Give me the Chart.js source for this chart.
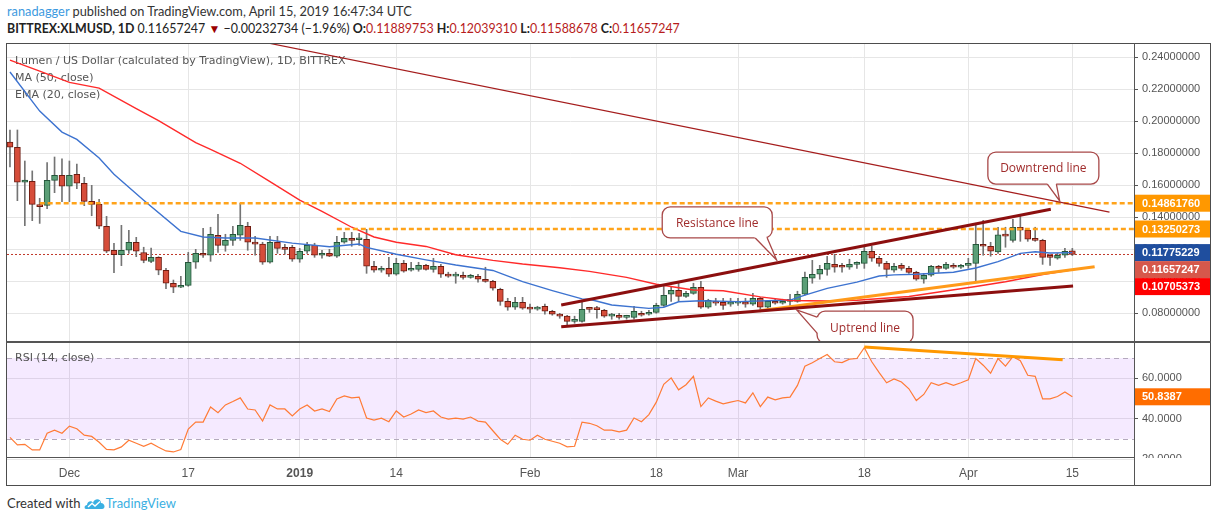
<!DOCTYPE html>
<html>
<head>
<meta charset="utf-8">
<title>XLMUSD 1D</title>
<script src="https://cdn.jsdelivr.net/npm/chart.js@4.4.1/dist/chart.umd.min.js"></script>
<style>
  body { margin: 0; background: #fff; width: 1216px; height: 522px; overflow: hidden; position: relative; font-family: 'Lato', sans-serif; }
  .abs { position: absolute; }
  #head1 { left: 7px; top: 3px; font-size: 12.8px; color: #333; white-space: nowrap; }
  #head1 .user { color: #3d9ae0; }
  #head2 { left: 7px; top: 21px; font-size: 12.4px; color: #222; white-space: nowrap; }
  #head2 b { font-weight: 700; }
  #head2 .dn { color: #9b0000; font-size: 12px; }
  #head2 .v { color: #b71c1c; }
  #frame { left: 6px; top: 43px; width: 1205px; height: 443px; box-sizing: border-box; border: 1px solid #4d4d4d; }
  .sep { background: #555; }
  #footer { left: 7px; top: 495px; font-size: 13px; color: #333; white-space: nowrap; display: flex; align-items: center; }
  #footer .tv { color: #3bb0e2; }
</style>
</head>
<body>
<div id="head1" class="abs"><span class="user">ranadagger</span> published on TradingView.com, April 15, 2019 16:47:34 UTC</div>
<div id="head2" class="abs"><b>BITTREX:XLMUSD, 1D</b> 0.11657247 <span class="dn">&#9660;</span> &minus;0.00232734 (&minus;1.96%) <b>O:</b><span class="v">0.11889753</span> <b>H:</b><span class="v">0.12039310</span> <b>L:</b><span class="v">0.11588678</span> <b>C:</b><span class="v">0.11657247</span></div>

<canvas id="priceChart" class="abs" width="1203" height="297" style="left:7px;top:44px"></canvas>
<canvas id="rsiChart" class="abs" width="1203" height="142" style="left:7px;top:343px"></canvas>

<div id="frame" class="abs"></div>
<div class="abs sep" style="left:6px;top:341px;width:1205px;height:2px"></div>
<div class="abs sep" style="left:6px;top:457px;width:1128px;height:1px"></div>
<div class="abs sep" style="left:1134px;top:43px;width:1px;height:443px"></div>

<div id="footer" class="abs">Created with&nbsp;<svg width="22" height="14" viewBox="0 0 22 14"><path d="M2 13 C0 13 0 9 3 9 C3 5 8 4 9 7 C10 2 17 2 17 7 C21 7 22 13 18 13 Z" fill="#3bb0e2"/><path d="M4 11 L8 7.5 L11 10 L16 5.5" stroke="#fff" stroke-width="1.4" fill="none"/></svg><span class="tv">TradingView</span></div>

<script>
// daily candles, 2018-11-23 .. 2019-04-15 (index 0 = Nov 23)
const open = [0.1869,0.1836,0.1617,0.1623,0.1467,0.1473,0.1629,0.1660,0.1592,0.1667,
  0.1611,0.1498,0.1479,0.1342,0.1192,0.1164,0.1192,0.1242,0.1178,0.1123,
  0.1148,0.1067,0.0986,0.0961,0.0973,0.1117,0.1173,0.1161,0.1286,0.1223,
  0.1254,0.1286,0.1342,0.1236,0.1230,0.1117,0.1242,0.1204,0.1211,0.1136,
  0.1186,0.1223,0.1161,0.1173,0.1155,0.1242,0.1267,0.1258,0.1261,0.1092,
  0.1067,0.1079,0.1042,0.1110,0.1067,0.1073,0.1098,0.1073,0.1092,0.1042,
  0.1030,0.1036,0.1023,0.1029,0.1011,0.0998,0.0948,0.0873,0.0836,0.0867,
  0.0830,0.0824,0.0842,0.0811,0.0792,0.0780,0.0748,0.0748,0.0826,0.0823,
  0.0817,0.0780,0.0786,0.0773,0.0773,0.0798,0.0792,0.0804,0.0848,0.0917,
  0.0942,0.0904,0.0923,0.0961,0.0836,0.0873,0.0867,0.0855,0.0861,0.0867,
  0.0855,0.0892,0.0836,0.0873,0.0861,0.0873,0.0873,0.0917,0.1017,0.1042,
  0.1073,0.1104,0.1088,0.1086,0.1104,0.1110,0.1186,0.1142,0.1110,0.1067,
  0.1098,0.1079,0.1054,0.1011,0.1036,0.1092,0.1079,0.1098,0.1086,0.1098,
  0.1110,0.1223,0.1217,0.1181,0.1292,0.1254,0.1336,0.1317,0.1261,0.1254,
  0.1154,0.1142,0.1161,0.11889753];
const high = [0.1944,0.1944,0.1750,0.1688,0.1517,0.1740,0.1775,0.1763,0.1750,0.1731,
  0.1648,0.1598,0.1511,0.1404,0.1236,0.1348,0.1317,0.1273,0.1211,0.1205,
  0.1152,0.1079,0.1006,0.1029,0.1179,0.1198,0.1329,0.1336,0.1417,0.1292,
  0.1342,0.1486,0.1367,0.1279,0.1242,0.1279,0.1279,0.1229,0.1223,0.1204,
  0.1242,0.1236,0.1192,0.1198,0.1279,0.1304,0.1304,0.1298,0.1323,0.1123,
  0.1092,0.1148,0.1142,0.1129,0.1117,0.1117,0.1104,0.1142,0.1104,0.1055,
  0.1055,0.1055,0.1042,0.1042,0.1086,0.1004,0.0955,0.0892,0.0898,0.0898,
  0.0855,0.0842,0.0855,0.0817,0.0798,0.0786,0.0780,0.0873,0.0836,0.0842,
  0.0823,0.0798,0.0798,0.0786,0.0842,0.0811,0.0817,0.0861,0.0973,0.0961,
  0.0992,0.0936,0.0986,0.0998,0.0886,0.0892,0.0892,0.0892,0.0892,0.0892,
  0.0923,0.0898,0.0879,0.0886,0.0886,0.0917,0.0936,0.1055,0.1129,0.1098,
  0.1154,0.1167,0.1110,0.1136,0.1120,0.1223,0.1217,0.1154,0.1123,0.1110,
  0.1110,0.1092,0.1061,0.1048,0.1098,0.1098,0.1117,0.1110,0.1104,0.1142,
  0.1361,0.1379,0.1242,0.1336,0.1336,0.1386,0.1404,0.1323,0.1336,0.1261,
  0.1167,0.1173,0.1204,0.12039310];
const low = [0.1713,0.1502,0.1346,0.1377,0.1360,0.1452,0.1552,0.1496,0.1496,0.1577,
  0.1471,0.1408,0.1327,0.1177,0.1052,0.1096,0.1173,0.1152,0.1114,0.1114,
  0.1039,0.0952,0.0927,0.0958,0.0967,0.1079,0.1148,0.1123,0.1179,0.1186,
  0.1223,0.1254,0.1192,0.1161,0.1104,0.1111,0.1173,0.1167,0.1123,0.1117,
  0.1173,0.1148,0.1142,0.1152,0.1148,0.1236,0.1217,0.1223,0.1048,0.1055,
  0.1055,0.1029,0.1036,0.1055,0.1061,0.1061,0.1067,0.1055,0.1023,0.1023,
  0.0986,0.1011,0.1017,0.0992,0.0992,0.0942,0.0848,0.0817,0.0823,0.0823,
  0.0800,0.0817,0.0792,0.0786,0.0767,0.0723,0.0736,0.0742,0.0804,0.0767,
  0.0773,0.0761,0.0761,0.0761,0.0761,0.0780,0.0786,0.0798,0.0842,0.0873,
  0.0873,0.0898,0.0917,0.0829,0.0829,0.0848,0.0823,0.0842,0.0848,0.0836,
  0.0848,0.0823,0.0829,0.0855,0.0855,0.0848,0.0867,0.0911,0.0986,0.1011,
  0.1036,0.1055,0.1055,0.1073,0.1079,0.1079,0.1123,0.1092,0.1023,0.1055,
  0.1067,0.1048,0.1004,0.0986,0.1029,0.1054,0.1073,0.1079,0.1079,0.1079,
  0.0998,0.1161,0.1155,0.1173,0.1211,0.1242,0.1248,0.1248,0.1248,0.1104,
  0.1098,0.1136,0.1148,0.11588678];
const close = [0.1837,0.1617,0.1631,0.1479,0.1465,0.1629,0.1660,0.1592,0.1660,0.1611,
  0.1498,0.1479,0.1342,0.1186,0.1164,0.1192,0.1242,0.1186,0.1129,0.1148,
  0.1067,0.0986,0.0961,0.0973,0.1117,0.1173,0.1161,0.1292,0.1223,0.1254,
  0.1292,0.1348,0.1242,0.1230,0.1117,0.1242,0.1204,0.1198,0.1136,0.1186,
  0.1223,0.1161,0.1173,0.1155,0.1242,0.1267,0.1254,0.1261,0.1092,0.1067,
  0.1079,0.1042,0.1110,0.1061,0.1079,0.1098,0.1073,0.1092,0.1042,0.1030,
  0.1042,0.1023,0.1029,0.1011,0.0998,0.0955,0.0873,0.0836,0.0867,0.0830,
  0.0824,0.0836,0.0811,0.0792,0.0780,0.0748,0.0751,0.0823,0.0823,0.0821,
  0.0780,0.0783,0.0773,0.0776,0.0811,0.0786,0.0804,0.0848,0.0911,0.0942,
  0.0904,0.0923,0.0961,0.0836,0.0879,0.0861,0.0848,0.0867,0.0863,0.0855,
  0.0892,0.0836,0.0873,0.0861,0.0873,0.0876,0.0917,0.1023,0.1042,0.1073,
  0.1110,0.1086,0.1086,0.1104,0.1114,0.1186,0.1142,0.1110,0.1073,0.1092,
  0.1079,0.1054,0.1011,0.1036,0.1092,0.1079,0.1104,0.1086,0.1098,0.1110,
  0.1229,0.1217,0.1186,0.1289,0.1280,0.1336,0.1317,0.1261,0.1254,0.1148,
  0.1148,0.1161,0.1186,0.11657247];

// indicator readings [day index, value]
const ma50 = [[0,0.2381],[4,0.2312],[8,0.2241],[12,0.2206],[17,0.2078],[20,0.2002],[25,0.1865],
  [27,0.1823],[31,0.1736],[35,0.1621],[39,0.1506],[42,0.1435],[46,0.1336],[49,0.1275],[52,0.1242],
  [56,0.1216],[60,0.1164],[65,0.1129],[69,0.1106],[74,0.1083],[78,0.1060],[83,0.1023],[87,0.0980],
  [92,0.0944],[96,0.0939],[101,0.0901],[105,0.0878],[110,0.0875],[114,0.0880],[121,0.0903],
  [130,0.0966],[134,0.0995],[139,0.1041],[143,0.10705373]];
const ema20 = [[0,0.2306],[4,0.2062],[7,0.1931],[9,0.1885],[12,0.1769],[14,0.1667],[18,0.1505],
  [23,0.1310],[26,0.1275],[29,0.1269],[33,0.1269],[38,0.1237],[43,0.1214],[47,0.1231],[48,0.1210],
  [52,0.1167],[56,0.1132],[60,0.1100],[65,0.1066],[69,0.0996],[73,0.0940],[77,0.0888],[78,0.0886],
  [81,0.0850],[86,0.0829],[88,0.0836],[90,0.0870],[93,0.0877],[98,0.0871],[105,0.0881],[107,0.0912],
  [110,0.0954],[114,0.0993],[117,0.1031],[119,0.1038],[122,0.1042],[127,0.1055],[130,0.1081],
  [133,0.1121],[136,0.1173],[138,0.1183],[140,0.1175],[143,0.11775229]];
const rsi = [30.7,27,27.3,24.5,24.5,32.8,34.3,32.8,36.3,35,
  31.8,31.2,28.3,24.8,24.5,26,29.3,27.8,26.3,27.8,
  25.8,24,23.5,24.7,34.8,38.3,38.3,45.8,43,46.8,
  48.5,50.3,44.8,44.3,38.8,46.8,44.8,44.8,41.3,44.8,
  46.8,43.8,44.8,43.5,49.8,51.3,50.3,50.7,40.3,39.3,
  40.2,38.5,43.8,40.8,42.3,44.3,43,43.8,40.8,39.8,
  40.3,39.8,40.8,38.8,38.3,34,29.8,27.3,31.8,29.8,
  29.3,31.8,29.8,28.8,27.8,26,26.3,38.3,37.7,36.5,
  34.3,34.3,33.5,34.3,40.3,38.5,42,48.2,57,60.2,
  54.3,56.8,61,46,50.3,48.7,47.3,48.2,49,47.8,
  52.8,46,50.7,49.3,50.3,50.7,56.5,66,67.7,69.8,
  71.8,68.2,67.8,69.5,69.8,75.2,68.2,62.8,57.8,59.7,
  58.2,54.8,49,52,57.8,56.5,57.8,56.5,57.8,59.3,
  69.8,66.5,62.5,69.8,66,70.7,68.7,61.5,61,49.8,
  49.8,51,53.2,50.8387];

// drawn studies [day index, value]
const downtrendLine = [[20,0.2625],[148,0.1431]];
const resistanceLine = [[74.2,0.0850],[140.1,0.1448]];
const supportLine = [[74.2,0.0714],[143.1,0.0969]];
const uptrendLine = [[100.9,0.0814],[146,0.1089]];
const rsiDivergence = [[115,75.5],[141.7,69.2]];
const levelValues = [0.14861760, 0.13250273];
const levelStarts = [4, 44];

const tickIdx = [8,24,39,52,70,87,98,115,129,143];
const tickLabels = ['Dec','17','2019','14','Feb','18','Mar','18','Apr','15'];
const priceTicks = [0.08,0.10,0.12,0.14,0.16,0.18,0.20,0.22,0.24];
const rsiTicks = [20,40,60];
const lastClose = 0.11657247;

const X_MIN = -0.4, X_MAX = 151.3;
const GRID = '#e6e6e6';
const AXIS_FONT = { family: 'Liberation Sans', size: 11 };

const pts = arr => arr.map(p => ({ x: p[0], y: p[1] }));
const line = (data, color, width, extra) => Object.assign({
  type: 'line', data, borderColor: color, borderWidth: width,
  pointRadius: 0, fill: false, tension: 0, order: 1
}, extra || {});

const up = close.map((c, i) => c >= open[i]);

const fixedAxis = (s, size) => {
  if (s.isHorizontal()) { s.height = size; } else { s.width = size; }
  s.paddingTop = 0; s.paddingBottom = 0; s.paddingLeft = 0; s.paddingRight = 0;
};

function drawCallout(ctx, c, xs, ys) {
  const cx = xs.getPixelForValue(c.at[0]), cy = ys.getPixelForValue(c.at[1]);
  const tx = xs.getPixelForValue(c.tip[0]), ty = ys.getPixelForValue(c.tip[1]);
  const x0 = cx - c.w / 2, y0 = cy - c.h / 2;
  ctx.save();
  ctx.beginPath();
  ctx.roundRect(x0, y0, c.w, c.h, 8);
  ctx.fillStyle = '#fff';
  ctx.fill();
  ctx.strokeStyle = '#a84848';
  ctx.lineWidth = 1.3;
  ctx.stroke();
  const b1 = [cx + c.base[0][0], cy + c.base[0][1]], b2 = [cx + c.base[1][0], cy + c.base[1][1]];
  ctx.beginPath();
  ctx.moveTo(b1[0], b1[1]);
  ctx.lineTo(tx, ty);
  ctx.lineTo(b2[0], b2[1]);
  ctx.lineTo(b2[0] + (cx - b2[0]) * 0.08, b2[1] + (cy - b2[1]) * 0.2);
  ctx.lineTo(b1[0] + (cx - b1[0]) * 0.08, b1[1] + (cy - b1[1]) * 0.2);
  ctx.closePath();
  ctx.fill();
  ctx.beginPath();
  ctx.moveTo(b1[0], b1[1]);
  ctx.lineTo(tx, ty);
  ctx.lineTo(b2[0], b2[1]);
  ctx.stroke();
  ctx.fillStyle = '#a02c2c';
  ctx.font = '12px "Open Sans"';
  ctx.textAlign = 'center';
  ctx.textBaseline = 'middle';
  ctx.fillText(c.text, cx, cy + 1);
  ctx.restore();
}

const callouts = [
  { text: 'Resistance line', at: [95.2, 0.1366], tip: [103.2, 0.1131], w: 110, h: 31, base: [[38, 15.5], [50, 15.5]] },
  { text: 'Downtrend line', at: [139.1, 0.1706], tip: [141.3, 0.1500], w: 111, h: 32, base: [[4, 16], [13, 16]] },
  { text: 'Uptrend line', at: [115.1, 0.0712], tip: [105.9, 0.0819], w: 96, h: 32, base: [[-48, -10], [-48, 6]] }
];

function drawTag(ctx, area, y, text, bg, width) {
  ctx.fillStyle = bg;
  ctx.fillRect(area.right, y - 8.5, width - area.right, 17);
  ctx.fillStyle = '#fff';
  ctx.font = 'bold 11px "Liberation Sans"';
  ctx.textAlign = 'left';
  ctx.textBaseline = 'middle';
  ctx.fillText(text, area.right + 8, y + 0.5);
}

const priceDecor = {
  id: 'priceDecor',
  beforeDatasetsDraw(chart) {
    const ctx = chart.ctx;
    ctx.save();
    ctx.font = '11px "DejaVu Sans"';
    ctx.fillStyle = '#555';
    ctx.textBaseline = 'middle';
    ctx.fillText('Lumen / US Dollar (calculated by TradingView), 1D, BITTREX', 8, 17);
    ctx.fillText('MA (50, close)', 8, 34);
    ctx.fillText('EMA (20, close)', 8, 51);
    ctx.restore();
  },
  afterDatasetsDraw(chart) {
    const ctx = chart.ctx, a = chart.chartArea;
    ctx.save();
    ctx.beginPath();
    ctx.rect(a.left, a.top, a.right - a.left, a.bottom - a.top);
    ctx.clip();
    callouts.forEach(c => drawCallout(ctx, c, chart.scales.x, chart.scales.y));
    ctx.restore();
  },
  afterDraw(chart) {
    const ctx = chart.ctx, a = chart.chartArea, ys = chart.scales.y;
    const tags = [
      { v: levelValues[0], bg: '#ff9800' },
      { v: levelValues[1], bg: '#ff9800' },
      { v: ema20[ema20.length - 1][1], bg: '#1f4e9e' },
      { v: lastClose, bg: '#d6584b' },
      { v: ma50[ma50.length - 1][1], bg: '#ff0000' }
    ].map(t => Object.assign(t, { y: ys.getPixelForValue(t.v) }))
     .sort((p, q) => p.y - q.y);
    let prev = -Infinity;
    ctx.save();
    tags.forEach(t => {
      const y = Math.max(t.y, prev + 17);
      prev = y;
      drawTag(ctx, a, y, t.v.toFixed(8), t.bg, chart.width);
    });
    ctx.restore();
  }
};

const levelSets = levelValues.map((v, k) => line(pts([[levelStarts[k], v], [X_MAX, v]]), '#ffa31a', 2.5, { borderDash: [5, 3], order: 2 }));

new Chart(document.getElementById('priceChart'), {
  type: 'bar',
  data: {
    datasets: [
      line(pts([[X_MIN, lastClose], [X_MAX, lastClose]]), '#c0392b', 1, { borderDash: [2, 2], order: 10 }),
      {
        label: 'wick',
        data: close.map((c, i) => ({ x: i, y: [low[i], high[i]] })),
        backgroundColor: '#747474',
        barThickness: 1,
        grouped: false,
        order: 9
      },
      {
        label: 'body',
        data: close.map((c, i) => ({ x: i, y: [open[i], c] })),
        backgroundColor: up.map(u => u ? '#5b9f77' : '#d64d3a'),
        borderColor: up.map(u => u ? '#24563a' : '#6e1b10'),
        borderWidth: 1,
        borderSkipped: false,
        barThickness: 6,
        minBarLength: 2,
        grouped: false,
        order: 8
      },
      line(pts(ma50), '#ff2a2a', 1.4, { order: 3 }),
      line(pts(ema20), '#3d73d0', 1.4, { order: 3 }),
      ...levelSets,
      line(pts(downtrendLine), '#a51d1d', 1.2),
      line(pts(resistanceLine), '#8c0f0f', 3),
      line(pts(supportLine), '#8c0f0f', 3),
      line(pts(uptrendLine), '#ff9a1a', 3)
    ]
  },
  options: {
    responsive: false,
    animation: false,
    devicePixelRatio: 1,
    layout: { padding: 0 },
    plugins: { legend: { display: false }, tooltip: { enabled: false } },
    scales: {
      x: {
        type: 'linear', min: X_MIN, max: X_MAX, offset: false,
        afterBuildTicks: s => { s.ticks = tickIdx.map(v => ({ value: v })); },
        afterFit: s => fixedAxis(s, 0),
        ticks: { display: false },
        grid: { color: GRID, drawTicks: false, offset: false },
        border: { display: false }
      },
      y: {
        position: 'right', min: 0.0625, max: 0.24813, beginAtZero: false,
        afterBuildTicks: s => { s.ticks = priceTicks.map(v => ({ value: v })); },
        afterFit: s => fixedAxis(s, 76),
        ticks: { callback: v => v.toFixed(8), color: '#555', font: AXIS_FONT, padding: 4 },
        grid: { color: GRID, tickColor: '#555', tickLength: 4 },
        border: { display: false }
      }
    }
  },
  plugins: [priceDecor]
});

const rsiDecor = {
  id: 'rsiDecor',
  beforeDatasetsDraw(chart) {
    const ctx = chart.ctx, a = chart.chartArea, ys = chart.scales.y;
    const y70 = ys.getPixelForValue(70), y30 = ys.getPixelForValue(30);
    ctx.save();
    ctx.fillStyle = 'rgba(153, 51, 255, 0.1)';
    ctx.fillRect(a.left, y70, a.right - a.left, y30 - y70);
    ctx.strokeStyle = '#b4a9bd';
    ctx.setLineDash([5, 4]);
    ctx.lineWidth = 1;
    [y70, y30].forEach(y => {
      ctx.beginPath();
      ctx.moveTo(a.left, Math.round(y) + 0.5);
      ctx.lineTo(a.right, Math.round(y) + 0.5);
      ctx.stroke();
    });
    ctx.setLineDash([]);
    ctx.font = '11px "DejaVu Sans"';
    ctx.fillStyle = '#555';
    ctx.textBaseline = 'middle';
    ctx.fillText('RSI (14, close)', 8, 15);
    ctx.restore();
  },
  afterDraw(chart) {
    const ctx = chart.ctx, a = chart.chartArea;
    const last = rsi[rsi.length - 1];
    ctx.save();
    // the lowest RSI label is cut by the time axis, as in the original
    ctx.fillStyle = '#fff';
    ctx.fillRect(a.right + 1, a.bottom, chart.width - a.right - 1, chart.height - a.bottom);
    drawTag(ctx, a, chart.scales.y.getPixelForValue(last), last.toFixed(4), '#ff6d00', chart.width);
    ctx.restore();
  }
};

new Chart(document.getElementById('rsiChart'), {
  type: 'line',
  data: {
    datasets: [
      line(rsi.map((v, i) => ({ x: i, y: v })), '#ff7b36', 1.2, { order: 2 }),
      line(pts(rsiDivergence), '#ff9800', 3)
    ]
  },
  options: {
    responsive: false,
    animation: false,
    devicePixelRatio: 1,
    layout: { padding: 0 },
    plugins: { legend: { display: false }, tooltip: { enabled: false } },
    scales: {
      x: {
        type: 'linear', min: X_MIN, max: X_MAX,
        afterBuildTicks: s => { s.ticks = tickIdx.map(v => ({ value: v })); },
        afterFit: s => fixedAxis(s, 27),
        ticks: {
          callback: v => tickLabels[tickIdx.indexOf(v)],
          color: '#555',
          font: c => ({ family: 'Liberation Sans', size: 12, weight: c.tick && c.tick.value === 39 ? 'bold' : 'normal' }),
          padding: 8, maxRotation: 0, autoSkip: false
        },
        grid: { color: GRID, drawTicks: false },
        border: { display: false }
      },
      y: {
        position: 'right', min: 20.5, max: 77.5,
        afterBuildTicks: s => { s.ticks = rsiTicks.map(v => ({ value: v })); },
        afterFit: s => fixedAxis(s, 76),
        ticks: { callback: v => v.toFixed(4), color: '#555', font: AXIS_FONT, padding: 4 },
        grid: { color: GRID, tickColor: '#555', tickLength: 4 },
        border: { display: false }
      }
    }
  },
  plugins: [rsiDecor]
});
</script>
</body>
</html>
